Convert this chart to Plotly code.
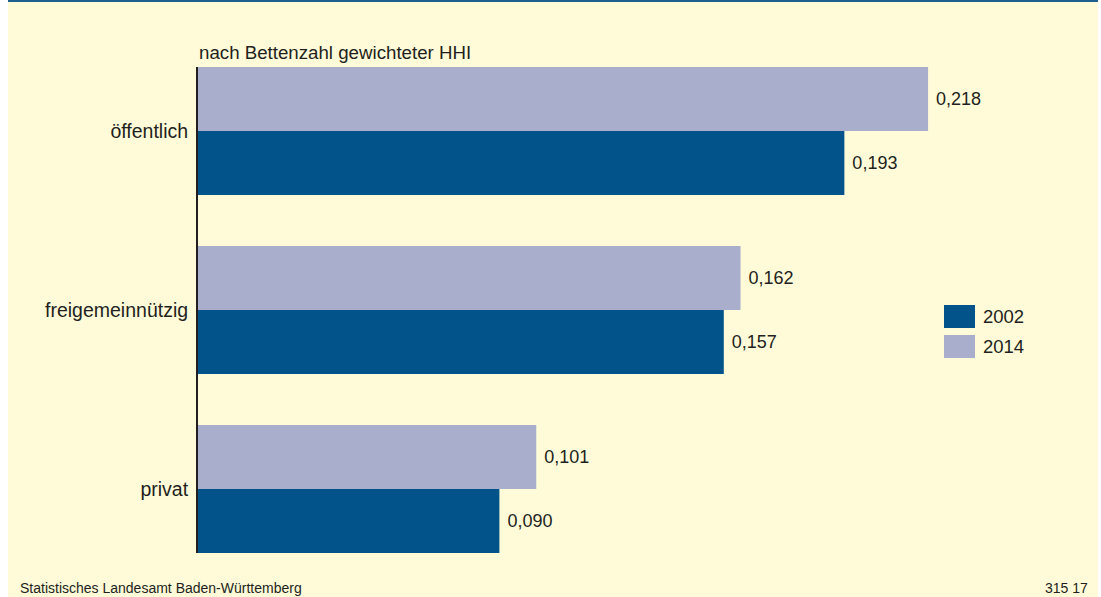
import plotly.graph_objects as go

categories = ["öffentlich", "freigemeinnützig", "privat"]
values_2002 = [0.193, 0.157, 0.090]
values_2014 = [0.218, 0.162, 0.101]
labels_2002 = ["0,193", "0,157", "0,090"]
labels_2014 = ["0,218", "0,162", "0,101"]

C2002 = "#02538A"
C2014 = "#A8AECB"
BG = "#FFFBD8"
FONT = "Liberation Sans, Arial, sans-serif"
TXT = "#231F20"

W, H = 1101, 597
ML, MR, MT, MB = 198, 20, 67, 44
px_per_unit = 3349.0
xmax = (W - ML - MR) / px_per_unit

fig = go.Figure()
fig.add_trace(go.Bar(
    y=categories, x=values_2014, name="2014", orientation="h",
    marker=dict(color=C2014, line=dict(width=0)),
    text=[" " + t for t in labels_2014], textposition="outside", cliponaxis=False,
    textfont=dict(family=FONT, size=18, color=TXT), showlegend=False,
))
fig.add_trace(go.Bar(
    y=categories, x=values_2002, name="2002", orientation="h",
    marker=dict(color=C2002, line=dict(width=0)),
    text=[" " + t for t in labels_2002], textposition="outside", cliponaxis=False,
    textfont=dict(family=FONT, size=18, color=TXT), showlegend=False,
))

def px_x(p):
    return (p - ML) / (W - ML - MR)

def px_y(p):
    return 1 - (p - MT) / (H - MT - MB)

shapes = [
    dict(type="rect", xref="paper", yref="paper", x0=px_x(0), x1=px_x(8), y0=px_y(H), y1=px_y(0),
         fillcolor="white", line=dict(width=0), layer="below"),
    dict(type="rect", xref="paper", yref="paper", x0=px_x(1098), x1=px_x(W), y0=px_y(H), y1=px_y(0),
         fillcolor="white", line=dict(width=0), layer="below"),
    dict(type="rect", xref="paper", yref="paper", x0=px_x(8), x1=px_x(1098), y0=px_y(2), y1=px_y(0),
         fillcolor="#1F5F8F", line=dict(width=0)),
    dict(type="rect", xref="paper", yref="paper", x0=px_x(944), x1=px_x(975), y0=px_y(328), y1=px_y(305),
         fillcolor=C2002, line=dict(width=0)),
    dict(type="rect", xref="paper", yref="paper", x0=px_x(944), x1=px_x(975), y0=px_y(358), y1=px_y(335),
         fillcolor=C2014, line=dict(width=0)),
]

annotations = [
    dict(text="nach Bettenzahl gewichteter HHI", xref="paper", yref="paper", x=0, y=1,
         xanchor="left", yanchor="bottom", yshift=2, xshift=-1, showarrow=False,
         font=dict(family=FONT, size=18.7, color=TXT)),
    dict(text="2002", xref="paper", yref="paper", x=px_x(981), y=px_y(316.5),
         xanchor="left", yanchor="middle", showarrow=False, font=dict(family=FONT, size=18.5, color=TXT)),
    dict(text="2014", xref="paper", yref="paper", x=px_x(981), y=px_y(346.5),
         xanchor="left", yanchor="middle", showarrow=False, font=dict(family=FONT, size=18.5, color=TXT)),
    dict(text="Statistisches Landesamt Baden-Württemberg", xref="paper", yref="paper", x=px_x(18), y=px_y(588),
         xanchor="left", yanchor="middle", showarrow=False, font=dict(family=FONT, size=14, color=TXT)),
    dict(text="315 17", xref="paper", yref="paper", x=px_x(1090), y=px_y(588),
         xanchor="right", yanchor="middle", showarrow=False, font=dict(family=FONT, size=14, color=TXT)),
]

fig.update_layout(
    width=W, height=H,
    margin=dict(l=ML, r=MR, t=MT, b=MB, pad=0),
    paper_bgcolor=BG, plot_bgcolor=BG,
    barmode="group", bargap=0.285, bargroupgap=0,
    font=dict(family=FONT, size=18, color=TXT),
    shapes=shapes, annotations=annotations,
    showlegend=False,
    xaxis=dict(range=[0, xmax], visible=False, showgrid=False, zeroline=False),
    yaxis=dict(type="category", categoryorder="array", categoryarray=categories,
               range=[2.3575, -0.3575], showgrid=False, zeroline=False,
               showline=True, linecolor="#231F20", linewidth=2, ticks="", ticklabelstandoff=4,
               tickfont=dict(family=FONT, size=19.5, color=TXT)),
)

fig.write_html("out.html", config={"displayModeBar": False},
               post_script="document.body.style.margin='0';document.body.style.overflow='hidden';")
